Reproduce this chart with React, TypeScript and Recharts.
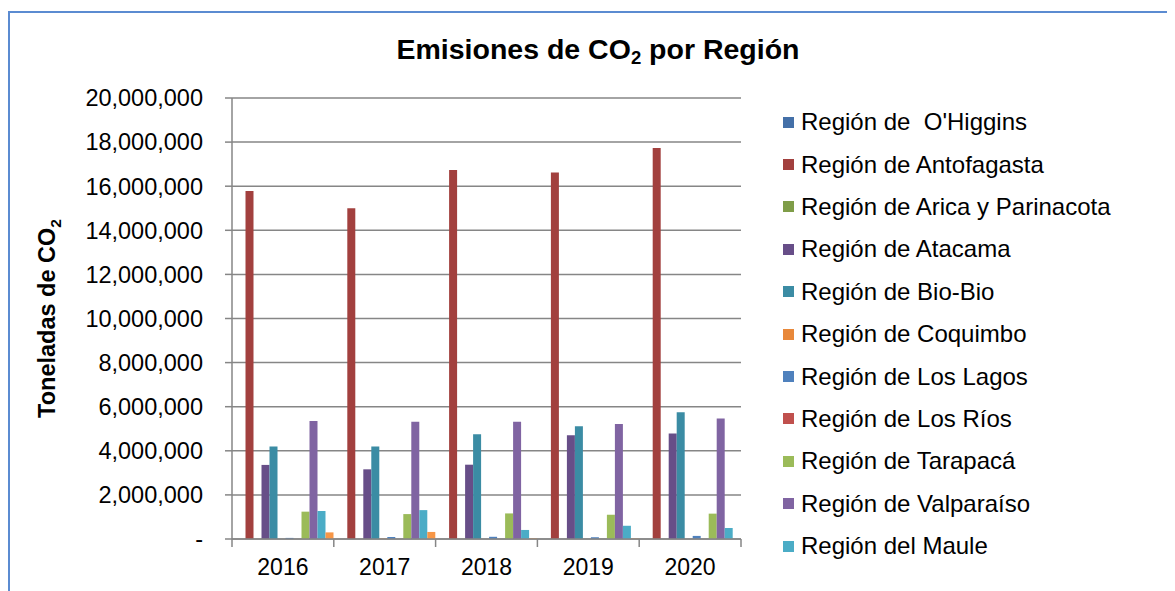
import { BarChart, Bar, XAxis, YAxis, CartesianGrid, Legend } from 'recharts'

const years = ['2016', '2017', '2018', '2019', '2020']

const ohiggins = [0, 0, 0, 0, 0]
const antofagasta = [15780000, 15000000, 16730000, 16620000, 17730000]
const aricaParinacota = [0, 0, 0, 0, 0]
const atacama = [3360000, 3160000, 3370000, 4700000, 4790000]
const bioBio = [4190000, 4190000, 4750000, 5110000, 5750000]
const coquimbo = [0, 20000, 0, 0, 0]
const losLagos = [50000, 90000, 100000, 80000, 140000]
const losRios = [0, 0, 0, 0, 0]
const tarapaca = [1240000, 1130000, 1160000, 1100000, 1150000]
const valparaiso = [5350000, 5320000, 5320000, 5220000, 5470000]
const maule = [1270000, 1310000, 410000, 600000, 500000]
const metropolitana = [300000, 320000, 30000, 20000, 0]

const yTicks = [0, 2000000, 4000000, 6000000, 8000000, 10000000, 12000000, 14000000, 16000000, 18000000, 20000000]

const series = [
  { key: 'ohiggins', name: "Región de  O'Higgins", color: '#4470A8', values: ohiggins },
  { key: 'antofagasta', name: 'Región de Antofagasta', color: '#A2403E', values: antofagasta },
  { key: 'arica', name: 'Región de Arica y Parinacota', color: '#7F9D48', values: aricaParinacota },
  { key: 'atacama', name: 'Región de Atacama', color: '#674E88', values: atacama },
  { key: 'bioBio', name: 'Región de Bio-Bio', color: '#3B8CA4', values: bioBio },
  { key: 'coquimbo', name: 'Región de Coquimbo', color: '#E8883A', values: coquimbo },
  { key: 'losLagos', name: 'Región de Los Lagos', color: '#4F81BD', values: losLagos },
  { key: 'losRios', name: 'Región de Los Ríos', color: '#C0504D', values: losRios },
  { key: 'tarapaca', name: 'Región de Tarapacá', color: '#9BBB59', values: tarapaca },
  { key: 'valparaiso', name: 'Región de Valparaíso', color: '#8064A2', values: valparaiso },
  { key: 'maule', name: 'Región del Maule', color: '#4BACC6', values: maule },
  { key: 'metropolitana', name: 'Región Metropolitana', color: '#F79646', values: metropolitana, hidden: true },
]

const data = years.map((year, i) => {
  const row: Record<string, string | number> = { year }
  series.forEach((s) => { row[s.key] = s.values[i] })
  return row
})

const FONT = '"Liberation Sans", Arial, sans-serif'
const AXIS = '#868686'

function YearTick(props: any) {
  const { x, y, payload, index } = props
  const off = payload?.offset ?? 0
  const axisY = y - 20
  return (
    <g>
      <line x1={x - off} y1={axisY} x2={x - off} y2={axisY + 8} stroke={AXIS} strokeWidth={1.5} />
      {index === years.length - 1 && (
        <line x1={x + off} y1={axisY} x2={x + off} y2={axisY + 8} stroke={AXIS} strokeWidth={1.5} />
      )}
      <text x={x} y={y} dy="0.71em" textAnchor="middle" fontSize={23} fontFamily={FONT} fill="#000">
        {payload.value}
      </text>
    </g>
  )
}

function YTitle(props: any) {
  const vb = props.viewBox || { x: 0, y: 0, width: 0, height: 0 }
  const cx = vb.x + 39
  const cy = vb.y + vb.height / 2
  return (
    <text x={cx} y={cy} transform={`rotate(-90, ${cx}, ${cy})`} textAnchor="middle" dominantBaseline="central"
      fontSize={23.5} fontWeight="bold" fontFamily={FONT} fill="#000">
      <tspan>Toneladas de CO</tspan>
      <tspan baselineShift="sub" fontSize={15.5}>2</tspan>
    </text>
  )
}

function LegendList(props: any) {
  const items = (props.payload || []).filter((p: any) => p.type !== 'none')
  return (
    <div style={{ fontFamily: FONT, fontSize: 24, color: '#000' }}>
      {items.map((p: any) => (
        <div key={p.value} style={{ height: 42.4, display: 'flex', alignItems: 'center', whiteSpace: 'pre' }}>
          <span style={{ width: 11, height: 11, background: p.color, marginRight: 7, flex: 'none' }} />
          <span>{p.value}</span>
        </div>
      ))}
    </div>
  )
}

export default function App() {
  return (
    <div style={{ position: 'relative', width: 1180, height: 583 }}>
      <style>{'html,body{overflow:hidden}'}</style>
      <div style={{ position: 'absolute', left: 0, top: 3, width: 1200, height: 700, borderLeft: '2px solid #5B8BD1', borderTop: '2px solid #5B8BD1' }} />
      <div style={{ position: 'absolute', left: 0, top: 27, width: 1180, textAlign: 'center', fontFamily: FONT, fontSize: 28.5, fontWeight: 'bold', lineHeight: '29px' }}>
        Emisiones de CO<sub style={{ fontSize: '0.65em', lineHeight: 0, verticalAlign: '-0.25em' }}>2</sub> por Región
      </div>
      <div style={{ position: 'absolute', left: 0, top: 0 }}>
        <BarChart width={1167} height={583} data={data} margin={{ top: 90, right: 434, bottom: 12, left: 0 }}
          barCategoryGap={5.5} barGap={0}>
          <CartesianGrid vertical={false} stroke={AXIS} strokeWidth={1.5} />
          <XAxis dataKey="year" stroke={AXIS} strokeWidth={1.5} tickLine={false} tickSize={8} tickMargin={12}
            height={40} tick={<YearTick />} interval={0} />
          <YAxis width={224} domain={[0, 20000000]} ticks={yTicks} interval={0} stroke={AXIS} strokeWidth={1.5}
            tickSize={7} tickMargin={22}
            tick={{ fontSize: 23.5, fontFamily: FONT, fill: '#000' }}
            tickFormatter={(v: number) => (v === 0 ? '-' : v.toLocaleString('en-US'))}
            label={{ content: <YTitle /> }} />
          <Legend layout="vertical" align="center" verticalAlign="middle"
            wrapperStyle={{ left: 775, top: 93, width: 390 }} content={<LegendList />} />
          {series.map((s) => (
            <Bar key={s.key} dataKey={s.key} name={s.name} fill={s.color} isAnimationActive={false}
              legendType={s.hidden ? 'none' : 'square'} />
          ))}
        </BarChart>
      </div>
    </div>
  )
}
